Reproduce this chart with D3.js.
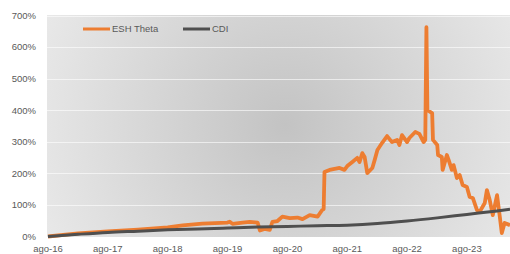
<!DOCTYPE html>
<html>
<head>
<meta charset="utf-8">
<script src="https://cdn.jsdelivr.net/npm/d3@7"></script>
<style>
  html, body { margin: 0; padding: 0; background: #fff; }
  svg { display: block; }
</style>
</head>
<body>
<svg id="chart" width="510" height="254"></svg>
<script>
// ESH Theta cumulative return (%)
const thetaDates = [
  '2016-08-01', '2017-02-01', '2017-08-01', '2018-02-01', '2018-08-01', '2018-11-01',
  '2019-03-01', '2019-08-01', '2019-08-15', '2019-09-01', '2019-11-01', '2019-12-15',
  '2020-02-01', '2020-02-15', '2020-03-15', '2020-04-15', '2020-05-01', '2020-06-01',
  '2020-07-01', '2020-08-15', '2020-10-01', '2020-11-01', '2020-12-15', '2021-02-01',
  '2021-03-01', '2021-03-10', '2021-03-15', '2021-04-15', '2021-06-15', '2021-07-15',
  '2021-08-01', '2021-09-01', '2021-10-01', '2021-10-15', '2021-11-01', '2021-11-15',
  '2021-12-01', '2022-01-01', '2022-01-15', '2022-02-01', '2022-03-01', '2022-04-01',
  '2022-05-01', '2022-06-01', '2022-06-15', '2022-07-01', '2022-08-01', '2022-08-15',
  '2022-09-20', '2022-10-15', '2022-11-10', '2022-11-20', '2022-11-27', '2022-12-03',
  '2023-01-01', '2023-01-06', '2023-02-01', '2023-02-06', '2023-03-01', '2023-03-06',
  '2023-04-01', '2023-04-12', '2023-05-01', '2023-05-12', '2023-06-01', '2023-06-18',
  '2023-07-06', '2023-08-01', '2023-08-18', '2023-09-06', '2023-10-01', '2023-10-18',
  '2023-11-18', '2023-12-01', '2023-12-18', '2024-01-06', '2024-02-01', '2024-02-18',
  '2024-03-01', '2024-03-18', '2024-04-20'
];
const thetaValues = [
  0, 10, 16, 22, 29, 35,
  41, 44, 47, 40, 44, 46,
  44, 19, 24, 21, 46, 49,
  63, 58, 60, 55, 68, 63,
  84, 87, 204, 211, 217, 211,
  223, 236, 249, 236, 264, 252,
  201, 217, 242, 274, 296, 318,
  299, 306, 290, 321, 299, 312,
  331, 325, 299, 306, 663, 400,
  391, 306, 290, 258, 252, 211,
  258, 242, 211, 226, 185, 195,
  163, 157, 125, 122, 84, 78,
  106, 147, 116, 68, 131, 62,
  11, 43, 36
];

// CDI cumulative (%)
const cdiDates = [
  '2016-08-01', '2017-02-01', '2017-08-01', '2018-02-01', '2018-08-01', '2019-02-01',
  '2019-08-01', '2020-02-01', '2020-08-01', '2021-02-01', '2021-08-01', '2022-02-01',
  '2022-08-01', '2023-02-01', '2023-08-01', '2024-02-01', '2024-04-20'
];
const cdiValues = [0, 7, 13, 17, 21, 24, 27, 30, 32, 34, 36, 41, 49, 59, 70, 81, 86];

const yTicks = [0, 100, 200, 300, 400, 500, 600, 700];
const xTickLabels = ['ago-16', 'ago-17', 'ago-18', 'ago-19', 'ago-20', 'ago-21', 'ago-22', 'ago-23'];
const xTickDates = ['2016-08-01', '2017-08-01', '2018-08-01', '2019-08-01', '2020-08-01', '2021-08-01', '2022-08-01', '2023-08-01'];

const seriesNames = ['ESH Theta', 'CDI'];
const colors = ['#ed7d31', '#4f4f4f'];

const parse = d3.timeParse('%Y-%m-%d');
const theta = thetaDates.map((d, i) => ({ date: parse(d), value: thetaValues[i] }));
const cdi = cdiDates.map((d, i) => ({ date: parse(d), value: cdiValues[i] }));

const width = 510;
const height = 254;
const plot = { left: 47, right: 510, top: 15, bottom: 237 };

const x = d3.scaleTime()
  .domain([parse('2016-08-01'), parse('2024-04-20')])
  .range([48, 510]);

const y = d3.scaleLinear()
  .domain([0, 700])
  .range([236.5, 15.5]);

const svg = d3.select('#chart')
  .attr('viewBox', [0, 0, width, height]);

const defs = svg.append('defs');
const grad = defs.append('radialGradient')
  .attr('id', 'bg')
  .attr('gradientUnits', 'userSpaceOnUse')
  .attr('cx', 285).attr('cy', 125).attr('r', 260);
grad.append('stop').attr('offset', 0).attr('stop-color', '#c3c3c3');
grad.append('stop').attr('offset', 1).attr('stop-color', '#e8e8e8');

svg.append('rect')
  .attr('x', plot.left)
  .attr('y', plot.top)
  .attr('width', plot.right - plot.left)
  .attr('height', plot.bottom - plot.top)
  .attr('fill', 'url(#bg)');

// gridlines
svg.append('g')
  .selectAll('line')
  .data(yTicks.filter(d => d > 0))
  .join('line')
  .attr('x1', plot.left)
  .attr('x2', plot.right)
  .attr('y1', d => Math.round(y(d)) + 0.5)
  .attr('y2', d => Math.round(y(d)) + 0.5)
  .attr('stroke', '#ffffff')
  .attr('stroke-opacity', 0.6)
  .attr('stroke-width', 1);

// y axis labels
svg.append('g')
  .attr('font-family', 'Liberation Sans, Arial, sans-serif')
  .attr('font-size', 9.5)
  .attr('fill', '#595959')
  .attr('text-anchor', 'end')
  .selectAll('text')
  .data(yTicks)
  .join('text')
  .attr('x', 36)
  .attr('y', d => y(d))
  .attr('dy', '0.35em')
  .text(d => d + '%');

// x axis labels, kept just inside the bottom edge
svg.append('g')
  .attr('font-family', 'Liberation Sans, Arial, sans-serif')
  .attr('font-size', 9.5)
  .attr('fill', '#595959')
  .attr('text-anchor', 'middle')
  .selectAll('text')
  .data(xTickDates)
  .join('text')
  .attr('x', d => x(parse(d)))
  .attr('y', 251.5)
  .text((d, i) => xTickLabels[i]);

const line = d3.line()
  .x(d => x(d.date))
  .y(d => y(d.value));

svg.append('path')
  .datum(theta)
  .attr('fill', 'none')
  .attr('stroke', colors[0])
  .attr('stroke-width', 3.8)
  .attr('stroke-linejoin', 'round')
  .attr('d', line);

svg.append('path')
  .datum(cdi)
  .attr('fill', 'none')
  .attr('stroke', colors[1])
  .attr('stroke-width', 3)
  .attr('stroke-linejoin', 'round')
  .attr('d', line.curve(d3.curveMonotoneX));

// legend
const legend = svg.append('g')
  .attr('font-family', 'Liberation Sans, Arial, sans-serif')
  .attr('font-size', 9.5)
  .attr('fill', '#595959');

const legendX = [83, 183];
seriesNames.forEach((name, i) => {
  legend.append('line')
    .attr('x1', legendX[i]).attr('x2', legendX[i] + 27)
    .attr('y1', 29).attr('y2', 29)
    .attr('stroke', colors[i])
    .attr('stroke-width', 3);
  legend.append('text')
    .attr('x', legendX[i] + 29)
    .attr('y', 29)
    .attr('dy', '0.35em')
    .text(name);
});
</script>
</body>
</html>
